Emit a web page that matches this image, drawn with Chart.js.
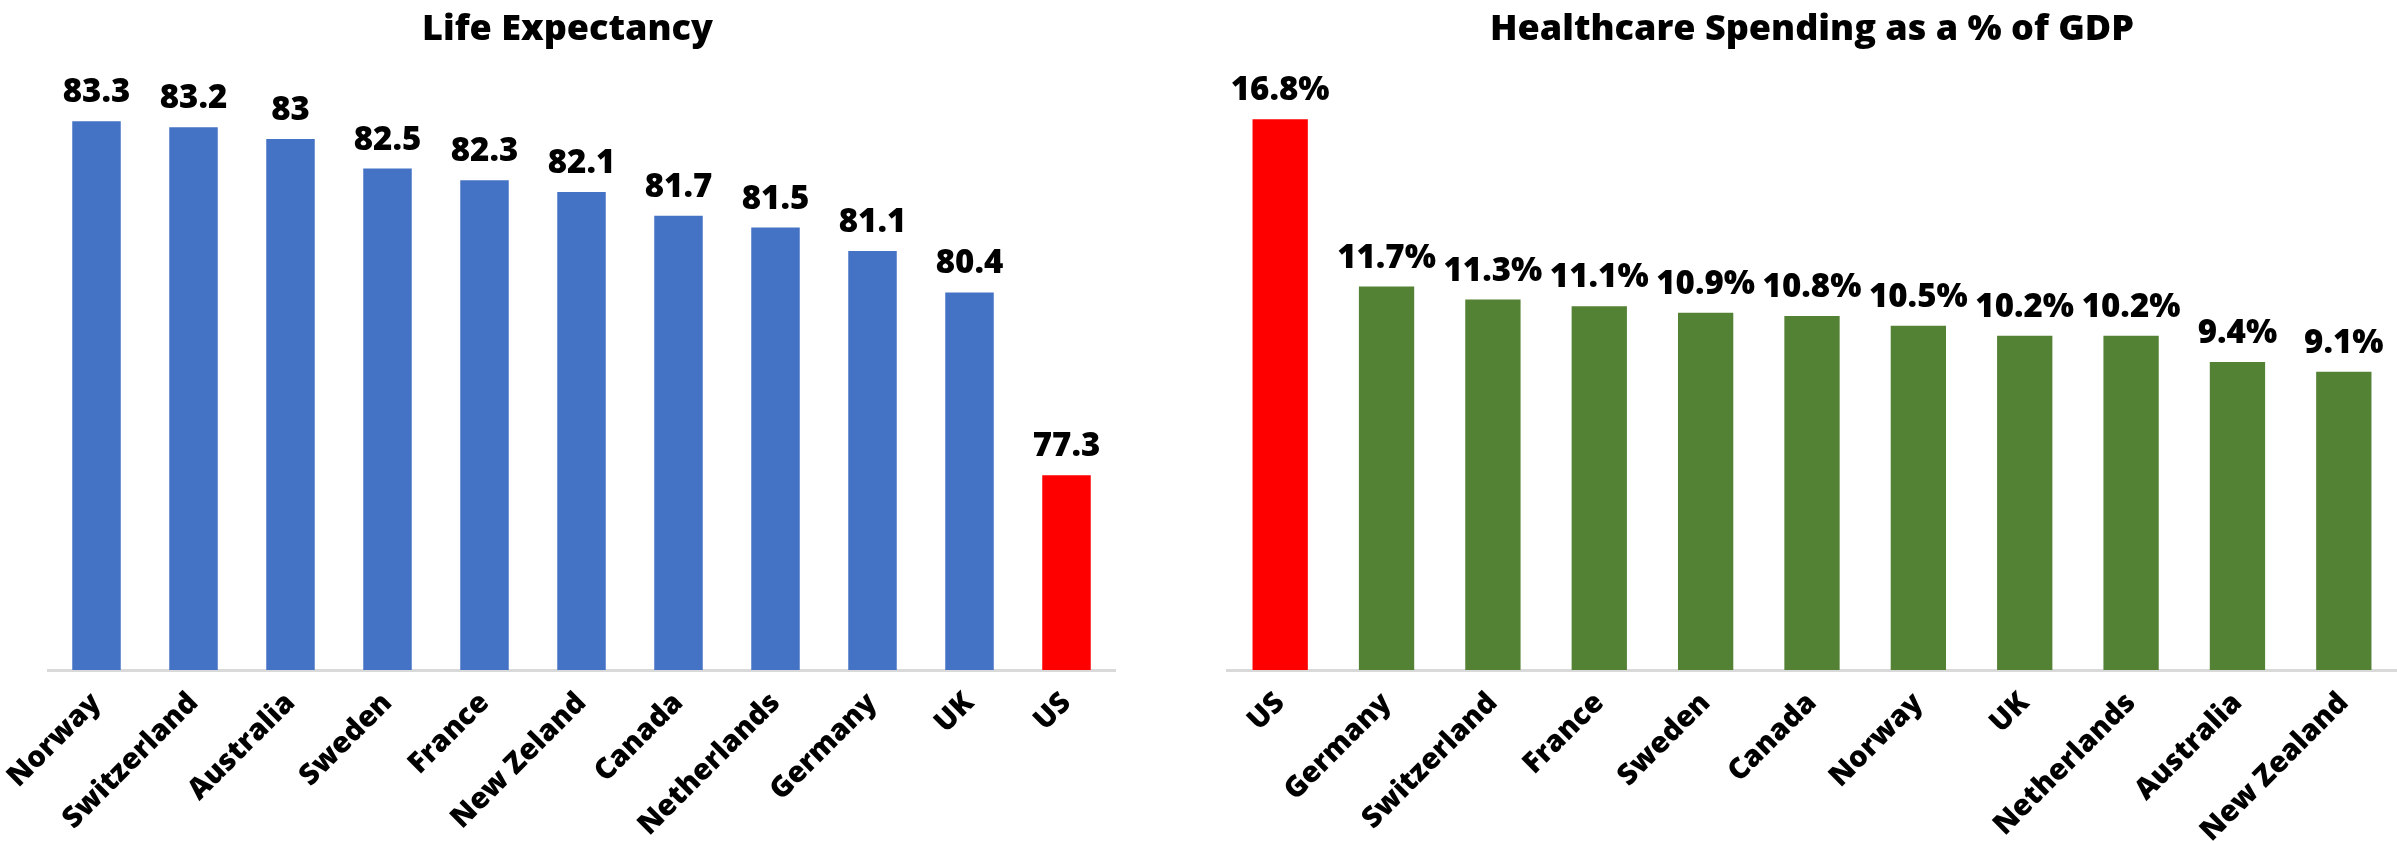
<!DOCTYPE html>
<html>
<head>
<meta charset="utf-8">
<script src="https://cdn.jsdelivr.net/npm/chart.js@4.4.1/dist/chart.umd.min.js"></script>
<style>
  html, body { margin: 0; padding: 0; background: #fff; }
  #wrap { position: relative; width: 2397px; height: 841px; }
  canvas { position: absolute; top: 0; }
  #lifeChart { left: 0; }
  #spendChart { left: 1160px; }
</style>
</head>
<body>
<div id="wrap">
  <canvas id="lifeChart" width="1134" height="841"></canvas>
  <canvas id="spendChart" width="1237" height="841"></canvas>
</div>
<script>
const lifeCountries = ['Norway', 'Switzerland', 'Australia', 'Sweden', 'France', 'New Zeland', 'Canada', 'Netherlands', 'Germany', 'UK', 'US']
const lifeValues = [83.3, 83.2, 83, 82.5, 82.3, 82.1, 81.7, 81.5, 81.1, 80.4, 77.3]

const spendCountries = ['US', 'Germany', 'Switzerland', 'France', 'Sweden', 'Canada', 'Norway', 'UK', 'Netherlands', 'Australia', 'New Zealand']
const spendValues = [16.8, 11.7, 11.3, 11.1, 10.9, 10.8, 10.5, 10.2, 10.2, 9.4, 9.1]

const FONT = "'Open Sans', 'DejaVu Sans', sans-serif"

// the US bar is picked out in red on both charts
function barColors(countries, base) {
    return countries.map(function(c) {
        return c === 'US' ? '#FF0000' : base
    })
}

// value printed above each bar
const valueLabels = {
    id: 'valueLabels',
    afterDatasetsDraw(chart, args, opts) {
        const ctx = chart.ctx
        const meta = chart.getDatasetMeta(0)
        const data = chart.data.datasets[0].data
        ctx.save()
        ctx.font = '800 33px ' + FONT
        ctx.fillStyle = '#000'
        ctx.textAlign = 'center'
        ctx.textBaseline = 'alphabetic'
        meta.data.forEach(function(bar, i) {
            ctx.fillText(String(data[i]) + (opts.suffix || ''), bar.x, bar.y - 19)
        })
        ctx.restore()
    }
}

// yGap: empty room kept for a hidden y axis (it nudges the title off-centre)
function makeChart(canvas, title, labels, values, color, yMin, yMax, barPct, padLeft, padRight, yGap, suffix) {
    return new Chart(canvas.getContext('2d'), {
        type: 'bar',
        data: {
            labels: labels,
            datasets: [{
                data: values,
                backgroundColor: barColors(labels, color),
                barPercentage: barPct,
                categoryPercentage: 1
            }]
        },
        options: {
            responsive: false,
            animation: false,
            layout: { padding: { left: padLeft, right: padRight, top: 0, bottom: 0 } },
            plugins: {
                legend: { display: false },
                tooltip: { enabled: false },
                title: {
                    display: true,
                    text: title,
                    color: '#000',
                    font: { family: FONT, size: 36, weight: 800, lineHeight: 1.2 },
                    padding: { top: 8, bottom: 28.8 }
                },
                valueLabels: { suffix: suffix }
            },
            scales: {
                x: {
                    grid: { display: false },
                    border: { display: true, color: '#D9D9D9', width: 3 },
                    ticks: {
                        color: '#000',
                        font: { family: FONT, size: 29, weight: 800 },
                        minRotation: 45,
                        maxRotation: 45,
                        padding: 8
                    },
                    afterFit: function(scale) { scale.height = 171 }
                },
                y: {
                    display: yGap > 0,
                    min: yMin,
                    max: yMax,
                    grid: { display: false },
                    border: { display: false },
                    ticks: { display: false },
                    afterFit: function(scale) { scale.width = yGap }
                }
            }
        },
        plugins: [valueLabels]
    })
}

makeChart(document.getElementById('lifeChart'), 'Life Expectancy',
    lifeCountries, lifeValues, '#4472C4', 74, 84, 0.5, 20, 19, 28, '')
makeChart(document.getElementById('spendChart'), 'Healthcare Spending as a % of GDP',
    spendCountries, spendValues, '#548235', 0, 18, 0.52, 67, 0, 0, '%')
</script>
</body>
</html>
